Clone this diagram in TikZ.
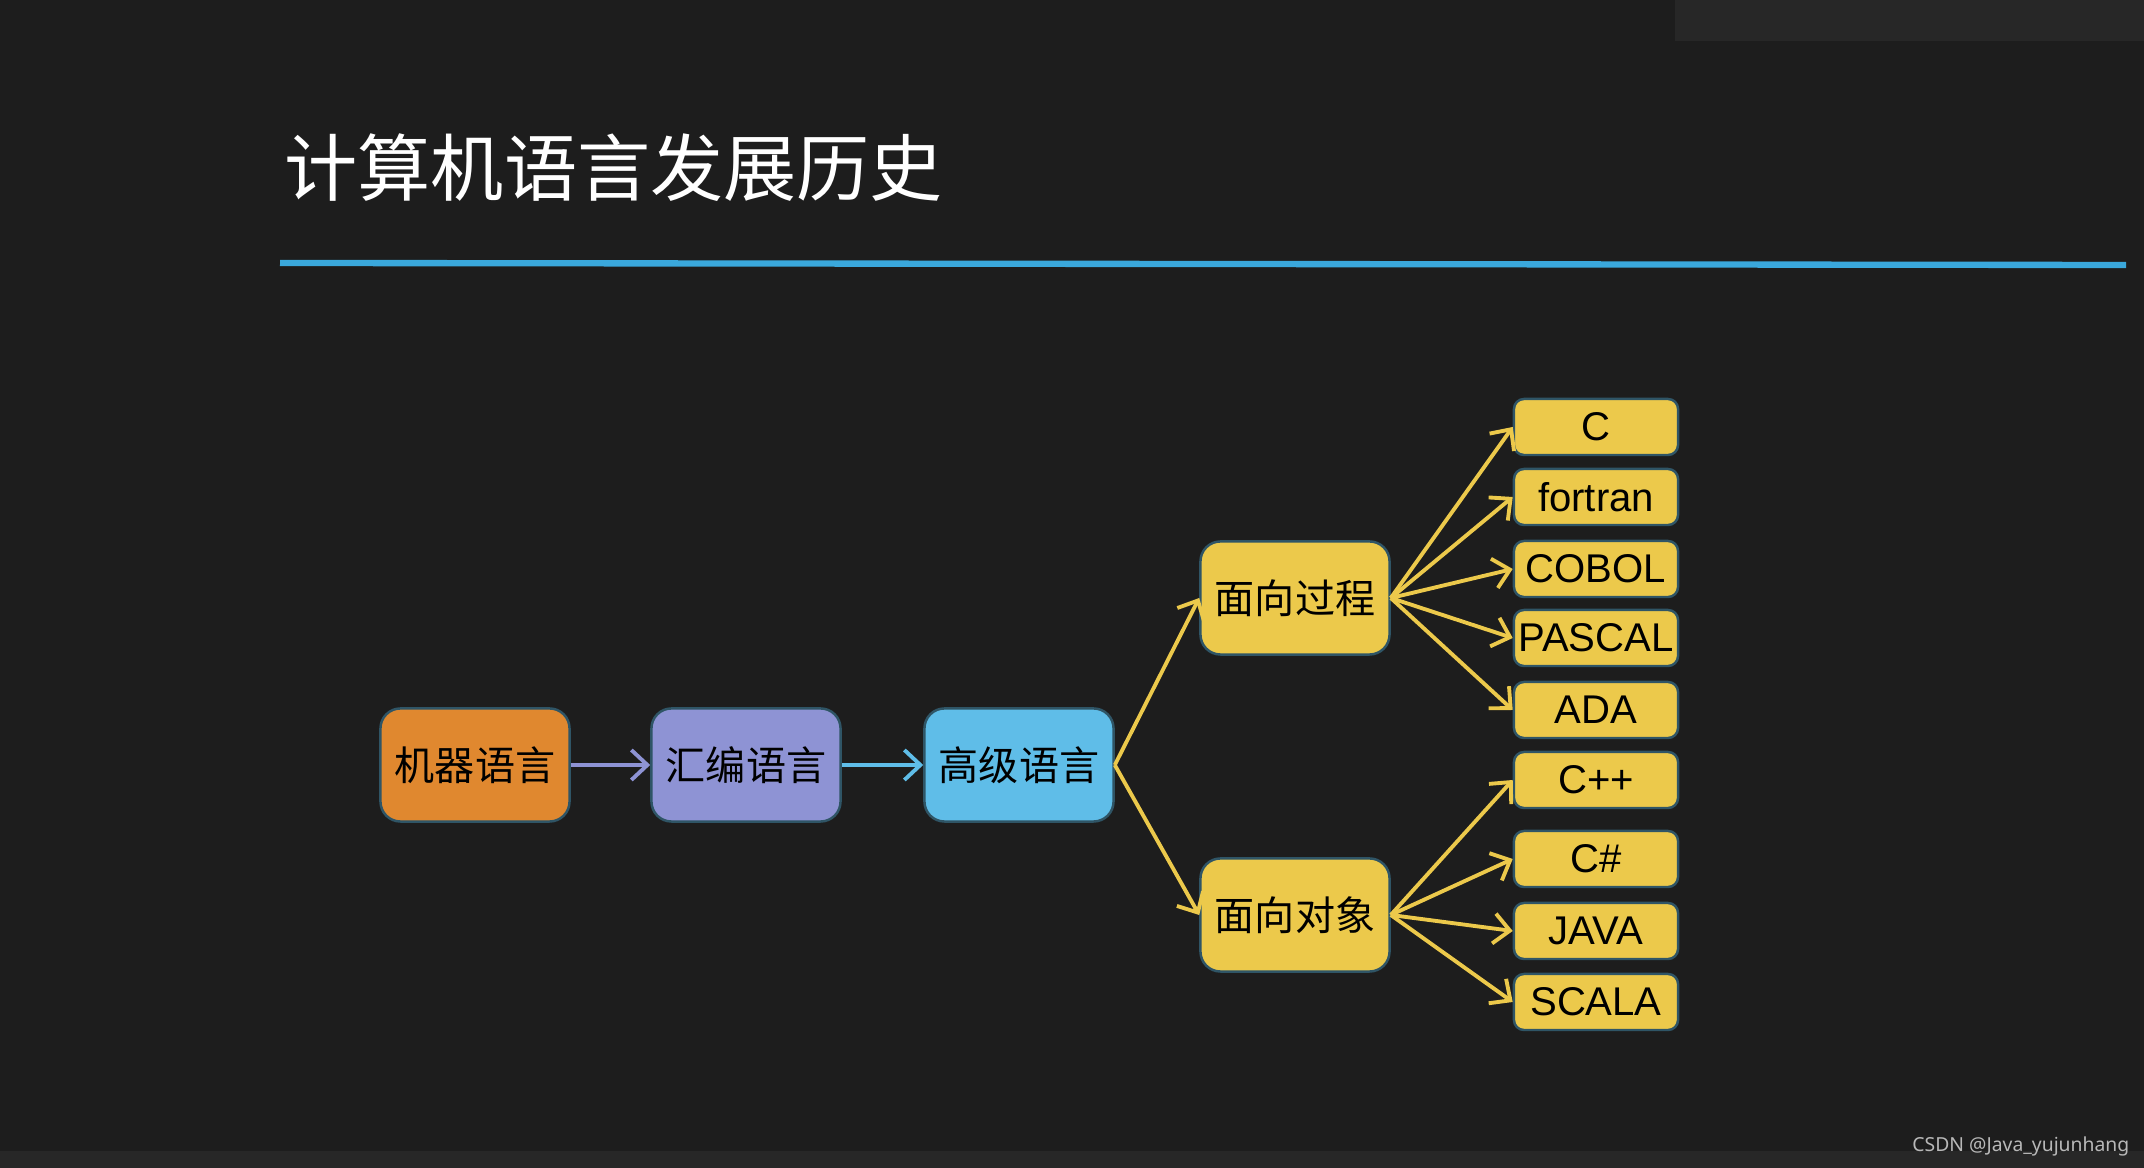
\documentclass[tikz,border=0pt]{standalone}
\usepackage{fontspec}
\setmainfont{Liberation Sans}
\newfontfamily\cjk{Noto Sans CJK SC}
\newfontfamily\wmfont{Noto Sans}
\usetikzlibrary{arrows.meta}

\definecolor{board}{HTML}{1D1D1D}
\definecolor{strip}{HTML}{272727}
\definecolor{rule}{HTML}{3AA8DC}
\definecolor{orng}{HTML}{E0882F}
\definecolor{lilac}{HTML}{8E93D4}
\definecolor{sky}{HTML}{5FBDE8}
\definecolor{gold}{HTML}{ECC94B}
\definecolor{edge}{HTML}{2F5566}

\begin{document}
\begin{tikzpicture}[
    x=0.01cm, y=-0.01cm,
    n/.style={rectangle, draw=edge, line width=0.7pt, rounded corners=2mm, inner sep=0pt,
              minimum width=1.89cm, minimum height=1.13cm, font=\cjk\fontsize{11.4}{13}\selectfont},
    l/.style={rectangle, draw=edge, line width=0.7pt, rounded corners=1mm, fill=gold, inner sep=0pt,
              minimum width=1.64cm, minimum height=0.56cm, font=\fontsize{11.4}{13}\selectfont},
    a/.style={-{Straight Barb[length=1.6mm, width=3mm]}, line width=1.1pt, gold},
]
% background
\fill[board] (0,0) rectangle (2144,1168);
\useasboundingbox (0,0) rectangle (2144,1168);
\fill[strip] (1675,0) rectangle (2144,41);
\fill[strip] (0,1151) rectangle (2144,1168);

% title and rule
\node[anchor=west, inner sep=0pt, text=white, font=\cjk\fontsize{20.8}{24}\selectfont] (title) at (284,168) {计算机语言发展历史};
\draw[rule, line width=1.8pt] (280,263) -- (2126,265);

% main chain
\node[n, fill=orng] (jq) at (475,765) {机器语言};
\node[n, fill=lilac] (hb) at (746,765) {汇编语言};
\node[n, fill=sky] (gj) at (1019,765) {高级语言};
\node[n, fill=gold] (gc) at (1295,598) {面向过程};
\node[n, fill=gold] (dx) at (1295,915) {面向对象};

% leaves
\node[l] (c) at (1596,427) {C};
\node[l] (fortran) at (1596,497) {fortran};
\node[l] (cobol) at (1596,569) {COBOL};
\node[l] (pascal) at (1596,638) {PASCAL};
\node[l] (ada) at (1596,710) {ADA};
\node[l] (cpp) at (1596,780) {C++};
\node[l] (cs) at (1596,859) {C\#};
\node[l] (java) at (1596,931) {JAVA};
\node[l] (scala) at (1596,1002) {SCALA};

% connectors
\draw[a, lilac] (jq) -- (hb);
\draw[a, sky] (hb) -- (gj);
\draw[a] (gj.east) -- (gc.west);
\draw[a] (gj.east) -- (dx.west);
\foreach \t in {c, fortran, cobol, pascal, ada}
  \draw[a] (gc.east) -- (\t.west);
\foreach \t in {cpp, cs, java, scala}
  \draw[a] (dx.east) -- (\t.west);

% watermark
\node[anchor=east, inner sep=0pt, text=white!72!black, font=\wmfont\fontsize{5.5}{7}\selectfont] (wm) at (2130,1146) {CSDN @Java\_yujunhang};
\end{tikzpicture}
\end{document}
